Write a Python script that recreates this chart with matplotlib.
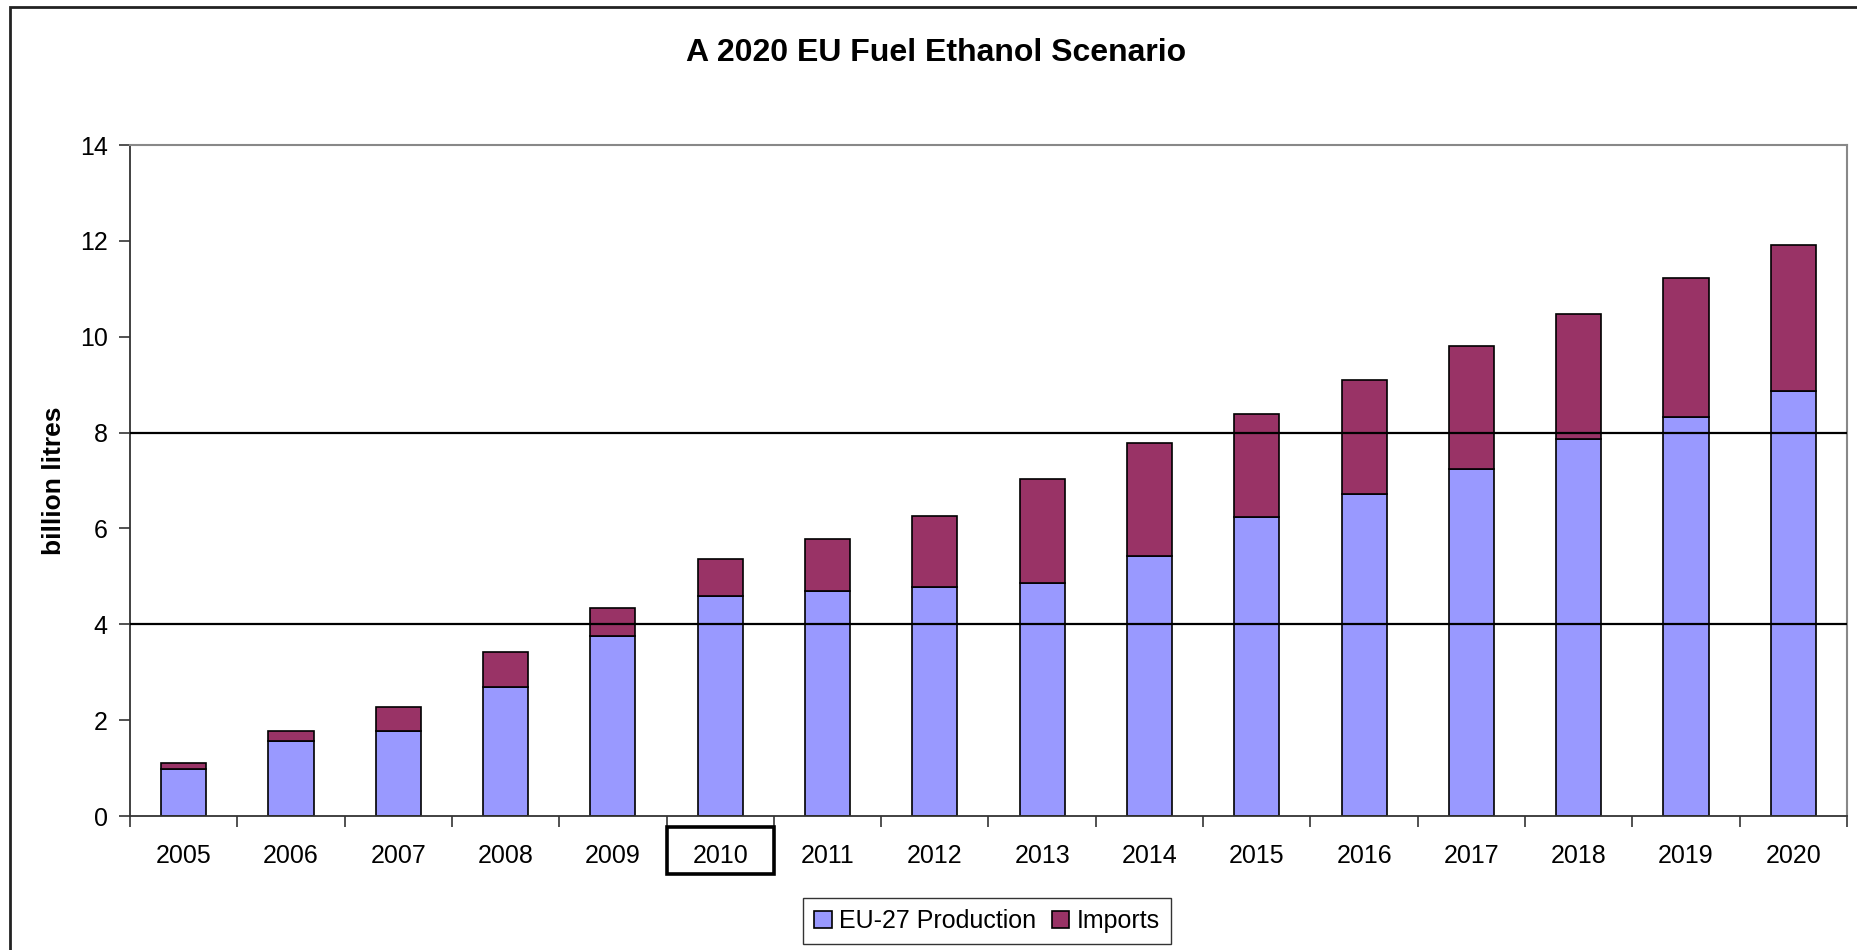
import matplotlib
matplotlib.use("Agg")
import matplotlib.pyplot as plt
import matplotlib.transforms as mtransforms
from matplotlib.patches import Rectangle
import numpy as np

plt.rcParams['font.family'] = ['Liberation Sans', 'DejaVu Sans']

# data (billion litres)
years = ['2005', '2006', '2007', '2008', '2009', '2010', '2011', '2012',
         '2013', '2014', '2015', '2016', '2017', '2018', '2019', '2020']
production = [0.98, 1.56, 1.77, 2.69, 3.76, 4.59, 4.69, 4.78,
              4.86, 5.43, 6.24, 6.71, 7.25, 7.87, 8.33, 8.87]
imports = [0.13, 0.22, 0.50, 0.74, 0.59, 0.77, 1.09, 1.47,
           2.18, 2.36, 2.14, 2.39, 2.55, 2.61, 2.90, 3.04]
y_ticks = [0, 2, 4, 6, 8, 10, 12, 14]
ref_lines = [4, 8]
highlight_year = '2010'

prod_color = '#9999FF'
imp_color = '#993366'

fig = plt.figure(figsize=(18.57, 9.5), dpi=100)
ax = fig.add_axes([130 / 1857, 1 - 816 / 950, 1717 / 1857, 671 / 950])

x = np.arange(len(years))
ax.bar(x, production, width=0.42, color=prod_color, edgecolor='black',
       linewidth=1.2, label='EU-27 Production', zorder=2)
ax.bar(x, imports, width=0.42, bottom=production, color=imp_color,
       edgecolor='black', linewidth=1.2, label='Imports', zorder=2)

for v in ref_lines:
    ax.axhline(v, color='black', linewidth=1.6, zorder=3)

ax.set_xlim(-0.5, len(years) - 0.5)
ax.set_ylim(0, 14)
ax.set_yticks(y_ticks)
ax.tick_params(axis='y', direction='out', length=8, width=1.2,
               color='#333333', labelsize=18, pad=8)

ax.set_xticks(x)
ax.set_xticklabels(years)
ax.set_xticks(np.arange(len(years) + 1) - 0.5, minor=True)
ax.tick_params(axis='x', which='major', length=0, labelsize=18, pad=20)
ax.tick_params(axis='x', which='minor', direction='out', length=8,
               width=1.2, color='#333333')

for side in ['top', 'right']:
    ax.spines[side].set_color('#888888')
    ax.spines[side].set_linewidth(1.5)
for side in ['left', 'bottom']:
    ax.spines[side].set_color('#333333')
    ax.spines[side].set_linewidth(1.3)

ax.set_ylabel('billion litres', fontsize=19, fontweight='bold', labelpad=10)

# box around the highlighted year
i = years.index(highlight_year)
trans = mtransforms.blended_transform_factory(ax.transData, ax.transAxes)
ax.add_patch(Rectangle((i - 0.5, -0.0864), 1.0, 0.07, transform=trans,
                       fill=False, edgecolor='black', linewidth=2.6,
                       clip_on=False, zorder=5))

fig.text(936 / 1857, 1 - 53 / 950, 'A 2020 EU Fuel Ethanol Scenario',
         ha='center', va='center', fontsize=23, fontweight='bold')

leg = fig.legend(loc='center', bbox_to_anchor=(987 / 1857, 1 - 921 / 950),
                 ncol=2, fontsize=18, frameon=True, fancybox=False,
                 edgecolor='black', handlelength=0.7, handleheight=0.7,
                 handletextpad=0.3, columnspacing=0.6, borderpad=0.45)
leg.get_frame().set_linewidth(1.0)

# outer chart border (right and bottom edges fall outside the image)
fig.patches.append(Rectangle((10 / 1857, -0.1), 1.2, 1 - 7 / 950 + 0.1,
                             transform=fig.transFigure, fill=False,
                             edgecolor='#222222', linewidth=2.0))

fig.savefig('out.png', dpi=100)
